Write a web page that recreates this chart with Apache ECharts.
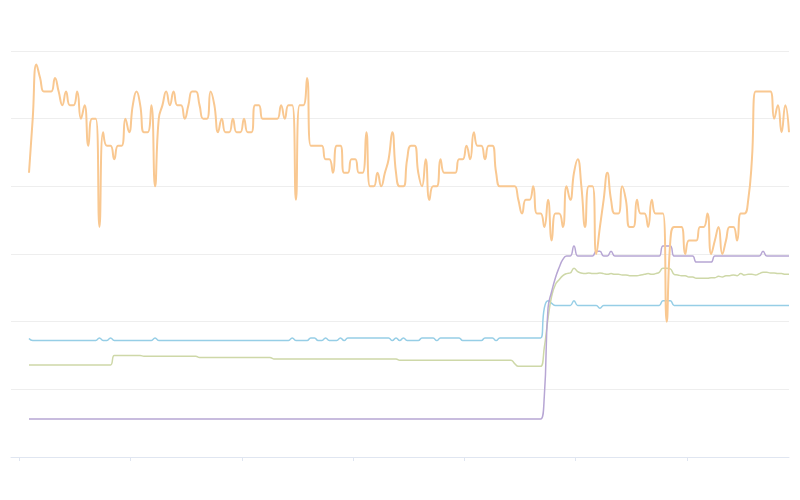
<!DOCTYPE html>
<html>
<head>
<meta charset="utf-8">
<script src="https://cdn.jsdelivr.net/npm/echarts@6/dist/echarts.min.js"></script>
<style>html,body{margin:0;padding:0;background:#fff;}#chart{width:800px;height:500px;}</style>
</head>
<body>
<div id="chart"></div>
<script>
// Sample index positions of x-axis ticks (in sample units)
const tickPositions = [-2.7, 27.35, 57.4, 87.4, 117.4, 147.45, 177.5];

const orange = [
  4.2,5.0,5.8,5.6,5.4,5.4,5.4,5.6,5.4,5.2,
  5.4,5.2,5.2,5.4,5.0,5.2,4.6,5.0,5.0,3.4,
  4.8,4.6,4.6,4.4,4.6,4.6,5.0,4.8,5.2,5.4,
  5.2,4.8,4.8,5.2,4.0,5.0,5.2,5.4,5.2,5.4,
  5.2,5.2,5.0,5.2,5.4,5.4,5.2,5.0,5.0,5.4,
  5.2,4.8,5.0,4.8,4.8,5.0,4.8,4.8,5.0,4.8,
  4.8,5.2,5.2,5.0,5.0,5.0,5.0,5.0,5.2,5.0,
  5.2,5.2,3.8,5.2,5.2,5.6,4.6,4.6,4.6,4.6,
  4.4,4.4,4.2,4.6,4.6,4.2,4.2,4.4,4.4,4.2,
  4.2,4.8,4.0,4.0,4.2,4.0,4.2,4.4,4.8,4.2,
  4.0,4.0,4.4,4.6,4.6,4.2,4.0,4.4,3.8,4.0,
  4.0,4.4,4.2,4.2,4.2,4.2,4.4,4.4,4.6,4.4,
  4.8,4.6,4.6,4.4,4.6,4.6,4.2,4.0,4.0,4.0,
  4.0,4.0,3.8,3.6,3.8,3.8,4.0,3.6,3.6,3.4,
  3.8,3.2,3.6,3.6,3.4,4.0,3.8,4.2,4.4,4.0,
  3.4,4.0,4.0,3.0,3.4,3.8,4.2,3.8,3.6,3.6,
  4.0,3.8,3.4,3.4,3.8,3.6,3.6,3.4,3.8,3.6,
  3.6,3.6,2.0,3.2,3.4,3.4,3.4,3.0,3.2,3.2,
  3.2,3.4,3.4,3.6,3.0,3.2,3.4,3.0,3.2,3.4,
  3.4,3.2,3.6,3.6,3.8,4.4,5.4,5.4,5.4,5.4,
  5.4,5.0,5.2,4.8,5.2,4.8
];

const purple = [
  0.56,0.56,0.56,0.56,0.56,0.56,0.56,0.56,0.56,0.56,
  0.56,0.56,0.56,0.56,0.56,0.56,0.56,0.56,0.56,0.56,
  0.56,0.56,0.56,0.56,0.56,0.56,0.56,0.56,0.56,0.56,
  0.56,0.56,0.56,0.56,0.56,0.56,0.56,0.56,0.56,0.56,
  0.56,0.56,0.56,0.56,0.56,0.56,0.56,0.56,0.56,0.56,
  0.56,0.56,0.56,0.56,0.56,0.56,0.56,0.56,0.56,0.56,
  0.56,0.56,0.56,0.56,0.56,0.56,0.56,0.56,0.56,0.56,
  0.56,0.56,0.56,0.56,0.56,0.56,0.56,0.56,0.56,0.56,
  0.56,0.56,0.56,0.56,0.56,0.56,0.56,0.56,0.56,0.56,
  0.56,0.56,0.56,0.56,0.56,0.56,0.56,0.56,0.56,0.56,
  0.56,0.56,0.56,0.56,0.56,0.56,0.56,0.56,0.56,0.56,
  0.56,0.56,0.56,0.56,0.56,0.56,0.56,0.56,0.56,0.56,
  0.56,0.56,0.56,0.56,0.56,0.56,0.56,0.56,0.56,0.56,
  0.56,0.56,0.56,0.56,0.56,0.56,0.56,0.56,0.56,0.9,
  2.2,2.45,2.65,2.8,2.92,2.97,2.97,3.12,2.97,2.97,
  2.97,2.97,2.97,3.04,3.04,2.97,2.97,3.04,2.97,2.97,
  2.97,2.97,2.97,2.97,2.97,2.97,2.97,2.97,2.97,2.97,
  2.97,3.12,3.12,3.12,2.97,2.97,2.97,2.97,2.97,2.97,
  2.88,2.88,2.88,2.88,2.88,2.97,2.97,2.97,2.97,2.97,
  2.97,2.97,2.97,2.97,2.97,2.97,2.97,2.97,3.04,2.97,
  2.97,2.97,2.97,2.97,2.97,2.97
];

const green = [
  1.36,1.36,1.36,1.36,1.36,1.36,1.36,1.36,1.36,1.36,
  1.36,1.36,1.36,1.36,1.36,1.36,1.36,1.36,1.36,1.36,
  1.36,1.36,1.36,1.50,1.50,1.50,1.50,1.50,1.50,1.50,
  1.50,1.49,1.49,1.49,1.49,1.49,1.49,1.49,1.49,1.49,
  1.49,1.49,1.49,1.49,1.49,1.49,1.47,1.47,1.47,1.47,
  1.47,1.47,1.47,1.47,1.47,1.47,1.47,1.47,1.47,1.47,
  1.47,1.47,1.47,1.47,1.47,1.47,1.45,1.45,1.45,1.45,
  1.45,1.45,1.45,1.45,1.45,1.45,1.45,1.45,1.45,1.45,
  1.45,1.45,1.45,1.45,1.45,1.45,1.45,1.45,1.45,1.45,
  1.45,1.45,1.45,1.45,1.45,1.45,1.45,1.45,1.45,1.45,
  1.43,1.43,1.43,1.43,1.43,1.43,1.43,1.43,1.43,1.43,
  1.43,1.43,1.43,1.43,1.43,1.43,1.43,1.43,1.43,1.43,
  1.43,1.43,1.43,1.43,1.43,1.43,1.43,1.43,1.43,1.43,
  1.43,1.38,1.34,1.34,1.34,1.34,1.34,1.34,1.34,1.62,
  2.05,2.38,2.55,2.62,2.68,2.71,2.72,2.79,2.74,2.72,
  2.71,2.72,2.71,2.71,2.72,2.71,2.70,2.71,2.70,2.70,
  2.69,2.69,2.68,2.68,2.68,2.69,2.70,2.71,2.70,2.71,
  2.73,2.79,2.79,2.78,2.70,2.69,2.68,2.68,2.66,2.66,
  2.64,2.64,2.64,2.64,2.65,2.65,2.67,2.66,2.68,2.68,
  2.69,2.68,2.71,2.69,2.70,2.70,2.69,2.71,2.73,2.73,
  2.72,2.72,2.71,2.71,2.70,2.70
];

const blue = [
  1.75,1.72,1.72,1.72,1.72,1.72,1.72,1.72,1.72,1.72,
  1.72,1.72,1.72,1.72,1.72,1.72,1.72,1.72,1.72,1.76,
  1.72,1.72,1.76,1.72,1.72,1.72,1.72,1.72,1.72,1.72,
  1.72,1.72,1.72,1.72,1.76,1.72,1.72,1.72,1.72,1.72,
  1.72,1.72,1.72,1.72,1.72,1.72,1.72,1.72,1.72,1.72,
  1.72,1.72,1.72,1.72,1.72,1.72,1.72,1.72,1.72,1.72,
  1.72,1.72,1.72,1.72,1.72,1.72,1.72,1.72,1.72,1.72,
  1.72,1.76,1.72,1.72,1.72,1.72,1.76,1.76,1.72,1.72,
  1.76,1.72,1.72,1.72,1.76,1.72,1.76,1.76,1.76,1.76,
  1.76,1.76,1.76,1.76,1.76,1.76,1.76,1.76,1.72,1.76,
  1.72,1.76,1.72,1.72,1.72,1.72,1.76,1.76,1.76,1.76,
  1.72,1.76,1.76,1.76,1.76,1.76,1.76,1.72,1.72,1.72,
  1.72,1.72,1.72,1.76,1.76,1.76,1.72,1.76,1.76,1.76,
  1.76,1.76,1.76,1.76,1.76,1.76,1.76,1.76,1.76,2.20,
  2.31,2.27,2.24,2.24,2.24,2.24,2.24,2.31,2.24,2.24,
  2.24,2.24,2.24,2.24,2.20,2.24,2.24,2.24,2.24,2.24,
  2.24,2.24,2.24,2.24,2.24,2.24,2.24,2.24,2.24,2.24,
  2.24,2.31,2.31,2.31,2.24,2.24,2.24,2.24,2.24,2.24,
  2.24,2.24,2.24,2.24,2.24,2.24,2.24,2.24,2.24,2.24,
  2.24,2.24,2.24,2.24,2.24,2.24,2.24,2.24,2.24,2.24,
  2.24,2.24,2.24,2.24,2.24,2.24
];

const toPairs = arr => arr.map((v, i) => [i, v]);

const chart = echarts.init(document.getElementById('chart'), null, {renderer: 'canvas'});
const lineSeries = (data, color, width) => ({
  type: 'line',
  data: toPairs(data),
  smooth: true,
  symbol: 'none',
  lineStyle: {color: color, width: width},
  itemStyle: {color: color},
  animation: false
});

chart.setOption({
  animation: false,
  grid: {left: 11, right: 11, top: 51, bottom: 43, containLabel: false},
  xAxis: {
    type: 'value',
    min: -4.856,
    max: 205,
    axisLine: {show: true, lineStyle: {color: '#E0E6F1', width: 1}},
    axisTick: {show: true, length: 4, lineStyle: {color: '#E0E6F1'}, customValues: tickPositions},
    axisLabel: {show: false, customValues: tickPositions},
    splitLine: {show: false}
  },
  yAxis: {
    type: 'value',
    min: 0,
    max: 6,
    interval: 1,
    axisLine: {show: false},
    axisTick: {show: false},
    axisLabel: {show: false},
    splitLine: {show: true, lineStyle: {color: '#EEEEEE', width: 1}}
  },
  series: [
    lineSeries(blue, '#96CEE6', 1.5),
    lineSeries(green, '#CED8A8', 1.5),
    lineSeries(purple, '#B7A6D4', 1.5),
    lineSeries(orange, '#F9C891', 2)
  ]
});
</script>
</body>
</html>
